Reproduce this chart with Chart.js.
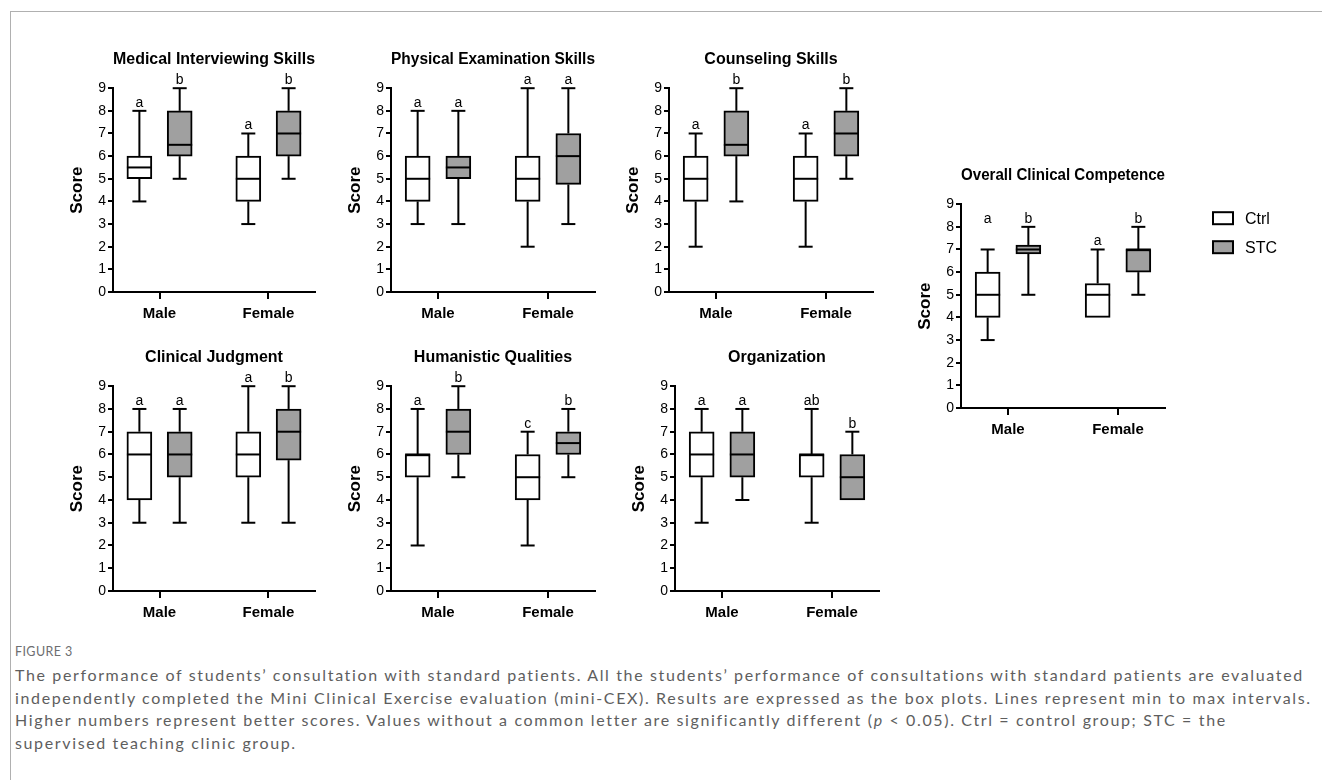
<!DOCTYPE html>
<html>
<head>
<meta charset="utf-8">
<script src="https://cdn.jsdelivr.net/npm/chart.js@4.4.1/dist/chart.umd.min.js"></script>
<style>
html,body{margin:0;padding:0;background:#fff;width:1322px;height:780px;overflow:hidden;position:relative;}
#frame{position:absolute;left:10px;top:11px;width:1400px;height:900px;border-top:1px solid #b0b0b0;border-left:1px solid #b0b0b0;}
canvas{position:absolute;}
#caption{position:absolute;left:15px;top:642px;width:1300px;font-family:'Lato','Open Sans',sans-serif;color:#5e5e5e;}
#figlabel{font-size:12.5px;letter-spacing:0.4px;line-height:20px;color:#6d6e70;}
#captext{font-size:16px;line-height:22.7px;margin-top:2px;white-space:nowrap;}
</style>
</head>
<body>
<div id="frame"></div>
<div id="caption">
  <div id="figlabel">FIGURE 3</div>
  <div id="captext"><span class="ln">The performance of students’ consultation with standard patients. All the students’ performance of consultations with standard patients are evaluated</span><br><span class="ln">independently completed the Mini Clinical Exercise evaluation (mini-CEX). Results are expressed as the box plots. Lines represent min to max intervals.</span><br><span class="ln">Higher numbers represent better scores. Values without a common letter are significantly different (<i>p</i> &lt; 0.05). Ctrl = control group; STC = the</span><br><span class="ln">supervised teaching clinic group.</span></div>
</div>
<script>
// ---------------- DATA ----------------
const categories = ['Male', 'Female'];
const seriesNames = ['Ctrl', 'STC'];
const yTickValues = [0, 1, 2, 3, 4, 5, 6, 7, 8, 9];
const panelTitles = ['Medical Interviewing Skills', 'Physical Examination Skills', 'Counseling Skills',
  'Clinical Judgment', 'Humanistic Qualities', 'Organization', 'Overall Clinical Competence'];

// each box: [min, q1, median, q3, max]; one box per category (Male, Female)
const interviewingCtrl = [[4, 5, 5.5, 6, 8], [3, 4, 5, 6, 7]];
const interviewingSTC  = [[5, 6, 6.5, 8, 9], [5, 6, 7, 8, 9]];
const interviewingLetters = ['a', 'b', 'a', 'b']; // Male Ctrl, Male STC, Female Ctrl, Female STC

const examinationCtrl = [[3, 4, 5, 6, 8], [2, 4, 5, 6, 9]];
const examinationSTC  = [[3, 5, 5.5, 6, 8], [3, 4.75, 6, 7, 9]];
const examinationLetters = ['a', 'a', 'a', 'a'];

const counselingCtrl = [[2, 4, 5, 6, 7], [2, 4, 5, 6, 7]];
const counselingSTC  = [[4, 6, 6.5, 8, 9], [5, 6, 7, 8, 9]];
const counselingLetters = ['a', 'b', 'a', 'b'];

const judgmentCtrl = [[3, 4, 6, 7, 8], [3, 5, 6, 7, 9]];
const judgmentSTC  = [[3, 5, 6, 7, 8], [3, 5.75, 7, 8, 9]];
const judgmentLetters = ['a', 'a', 'a', 'b'];

const humanisticCtrl = [[2, 5, 6, 6, 8], [2, 4, 5, 6, 7]];
const humanisticSTC  = [[5, 6, 7, 8, 9], [5, 6, 6.5, 7, 8]];
const humanisticLetters = ['a', 'b', 'c', 'b'];

const organizationCtrl = [[3, 5, 6, 7, 8], [3, 5, 6, 6, 8]];
const organizationSTC  = [[4, 5, 6, 7, 8], [4, 4, 5, 6, 7]];
const organizationLetters = ['a', 'a', 'ab', 'b'];

const overallCtrl = [[3, 4, 5, 6, 7], [4, 4, 5, 5.5, 7]];
const overallSTC  = [[5, 6.8, 7, 7.2, 8], [5, 6, 7, 7, 8]];
const overallLetters = ['a', 'b', 'a', 'b'];
const overallLetterLevels = [8, 8, 7, 8]; // value above which each letter sits

// ---------------- LAYOUT ----------------
const panels = [
  {title: panelTitles[0], ctrl: interviewingCtrl, stc: interviewingSTC, letters: interviewingLetters, box: {l: 113, r: 315, t: 88, b: 292}},
  {title: panelTitles[1], ctrl: examinationCtrl, stc: examinationSTC, letters: examinationLetters, box: {l: 391, r: 595, t: 88, b: 292}},
  {title: panelTitles[2], ctrl: counselingCtrl, stc: counselingSTC, letters: counselingLetters, box: {l: 669, r: 873, t: 88, b: 292}},
  {title: panelTitles[3], ctrl: judgmentCtrl, stc: judgmentSTC, letters: judgmentLetters, box: {l: 113, r: 315, t: 386, b: 591}},
  {title: panelTitles[4], ctrl: humanisticCtrl, stc: humanisticSTC, letters: humanisticLetters, box: {l: 391, r: 595, t: 386, b: 591}},
  {title: panelTitles[5], ctrl: organizationCtrl, stc: organizationSTC, letters: organizationLetters, box: {l: 675, r: 879, t: 386, b: 591}},
  {title: panelTitles[6], ctrl: overallCtrl, stc: overallSTC, letters: overallLetters, levels: overallLetterLevels, legend: true, box: {l: 961, r: 1165, t: 204, b: 408}}
];

const FONT = "'Liberation Sans', Arial, Helvetica, sans-serif";
Chart.defaults.font.family = FONT;
Chart.defaults.color = '#000';

const AX_W = 60, X_H = 44, PAD_T = 4, TITLE_SIZE = 16, TITLE_PB = 19;
const TITLE_H = TITLE_SIZE * 1.2 + TITLE_PB;
const EDGE = 0.4273;      // space between axis ends and category positions (category units)
const OFF = 0.185;        // offset of each series box from the category position
const BOX_W = 25, CAP_HALF = 7;
const FILLS = ['#ffffff', '#a0a0a0'];

const boxPlugin = {
  id: 'boxWhiskers',
  afterDatasetsDraw(chart, args, opts) {
    const {ctx, scales: {x, y}} = chart;
    const p = opts.panel;
    const groups = [p.ctrl, p.stc];
    ctx.save();
    ctx.strokeStyle = '#000';
    ctx.lineWidth = 2;
    ctx.lineCap = 'butt';
    const seg = (x1, y1, x2, y2) => { ctx.beginPath(); ctx.moveTo(x1, y1); ctx.lineTo(x2, y2); ctx.stroke(); };
    groups.forEach((boxes, s) => {
      boxes.forEach((b, i) => {
        const cx = x.getPixelForValue(i + 1 + (s === 0 ? -OFF : OFF));
        const [mn, q1, md, q3, mx] = b.map(v => y.getPixelForValue(v));
        if (b[4] > b[3]) { seg(cx, q3, cx, mx); seg(cx - CAP_HALF, mx, cx + CAP_HALF, mx); }
        if (b[0] < b[1]) { seg(cx, q1, cx, mn); seg(cx - CAP_HALF, mn, cx + CAP_HALF, mn); }
        seg(cx - BOX_W / 2, md, cx + BOX_W / 2, md);
        const letter = p.letters[i * 2 + s];
        const level = p.levels ? p.levels[i * 2 + s] : b[4];
        ctx.fillStyle = '#000';
        ctx.font = '14px ' + FONT;
        ctx.textAlign = 'center';
        ctx.textBaseline = 'alphabetic';
        ctx.fillText(letter, cx, y.getPixelForValue(level) - 4);
      });
    });
    if (p.legend) {
      const a = chart.chartArea;
      ctx.font = '16px ' + FONT;
      ctx.textAlign = 'left';
      ctx.textBaseline = 'middle';
      seriesNames.forEach((name, s) => {
        const ly = a.top + 14 + s * 29;
        const lx = a.right + 48;
        ctx.fillStyle = FILLS[s];
        ctx.fillRect(lx, ly - 6, 20, 12);
        ctx.strokeRect(lx, ly - 6, 20, 12);
        ctx.fillStyle = '#000';
        ctx.fillText(name, lx + 32, ly + 1);
      });
    }
    ctx.restore();
  }
};

panels.forEach((p, idx) => {
  const padR = p.legend ? 150 : 14;
  const w = AX_W + (p.box.r - p.box.l) + padR;
  const h = PAD_T + TITLE_H + (p.box.b - p.box.t) + X_H;
  const cv = document.createElement('canvas');
  cv.width = w; cv.height = h;
  cv.style.width = w + 'px'; cv.style.height = h + 'px';
  cv.style.left = (p.box.l - AX_W) + 'px';
  cv.style.top = (p.box.t - PAD_T - TITLE_H) + 'px';
  document.body.appendChild(cv);

  const datasets = seriesNames.map((name, s) => ({
    type: 'bar',
    label: name,
    data: categories.map((c, i) => {
      const b = (s === 0 ? p.ctrl : p.stc)[i];
      return {x: i + 1 + (s === 0 ? -OFF : OFF), y: [b[1], b[3]]};
    }),
    backgroundColor: FILLS[s],
    borderColor: '#000',
    borderWidth: 2,
    borderSkipped: false,
    barThickness: BOX_W,
    grouped: false
  }));

  new Chart(cv, {
    type: 'bar',
    data: {datasets},
    plugins: [boxPlugin],
    options: {
      responsive: false,
      animation: false,
      events: [],
      layout: {padding: {top: PAD_T, left: 0, right: padR, bottom: 0}},
      plugins: {
        legend: {display: false},
        tooltip: {enabled: false},
        title: {display: true, text: p.title, fullSize: false, color: '#000',
          font: {size: TITLE_SIZE, weight: 'bold'}, padding: {top: 0, bottom: TITLE_PB}},
        boxWhiskers: {panel: p}
      },
      scales: {
        x: {
          type: 'linear', min: 1 - EDGE, max: categories.length + EDGE,
          offset: false, bounds: 'data',
          afterBuildTicks: sc => { sc.ticks = categories.map((c, i) => ({value: i + 1})); },
          afterFit: sc => { sc.height = X_H; },
          ticks: {callback: (v, i) => categories[i], color: '#000', font: {size: 15, weight: 'bold'},
            padding: 6, maxRotation: 0, autoSkip: false},
          grid: {offset: false, drawOnChartArea: false, drawTicks: true, tickLength: 7, color: '#000', lineWidth: 2},
          border: {display: true, color: '#000', width: 2}
        },
        y: {
          min: 0, max: 9,
          afterBuildTicks: sc => { sc.ticks = yTickValues.map(v => ({value: v})); },
          afterFit: sc => { sc.width = AX_W; },
          ticks: {color: '#000', font: {size: 14}, padding: 2, autoSkip: false},
          grid: {drawOnChartArea: false, drawTicks: true, tickLength: 5, color: '#000', lineWidth: 2},
          border: {display: true, color: '#000', width: 2},
          title: {display: true, text: 'Score', color: '#000', font: {size: 17, weight: 'bold'},
            padding: {top: 14, bottom: 0}}
        }
      }
    }
  });
});

// fit caption line widths to the reference's text block via letter spacing
(function fitCaption() {
  const ct = document.getElementById('captext');
  const first = ct.querySelector('.ln');
  const target = 1290;
  const chars = first.textContent.length;
  const wNow = first.getBoundingClientRect().width;
  if (wNow > 0 && chars > 0) ct.style.letterSpacing = ((target - wNow) / chars).toFixed(3) + 'px';
})();
</script>
</body>
</html>
